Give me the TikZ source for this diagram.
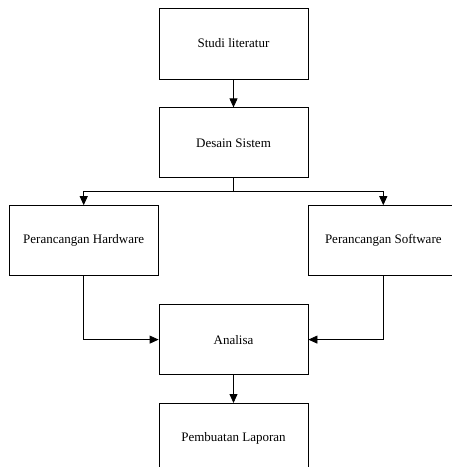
\documentclass[tikz,border=0pt]{standalone}
\usepackage{fontspec}
\setmainfont{Liberation Serif}
\usepackage{tikz}
\usetikzlibrary{positioning,calc,arrows.meta}

\tikzset{
    box/.style={draw, rectangle, line width=0.8pt, minimum width=149pt, minimum height=70pt, font=\fontsize{13}{15.5}\selectfont},
    arr/.style={line width=0.8pt, -{Triangle[length=9pt,width=8pt]}}
}

\begin{document}
\begin{tikzpicture}[node distance=28pt]
    \useasboundingbox (0,0) rectangle (451pt,-467pt);
    \node [box, minimum height=71pt] (studi) at (233.5pt,-43.5pt) {Studi literatur};
    \node [box, below=of studi] (desain) {Desain Sistem};

    % Percabangan
    \node [box, below=27pt of desain.south west, anchor=north east] (hw) {Perancangan Hardware};
    \node [box, below=27pt of desain.south east, anchor=north west] (sw) {Perancangan Software};
    \node [box, below=126pt of desain] (analisa) {Analisa};
    \node [box, below=of analisa] (laporan) {Pembuatan Laporan};

    \coordinate (split) at ([yshift=-13.5pt]desain.south);

    \draw [arr] (studi) -- (desain);
    \draw [line width=0.8pt] (desain) -- (split);
    \draw [arr] (split) -| (hw);
    \draw [arr] (split) -| (sw);
    \draw [arr] (hw) |- (analisa);
    \draw [arr] (sw) |- (analisa);
    \draw [arr] (analisa) -- (laporan);
\end{tikzpicture}
\end{document}
